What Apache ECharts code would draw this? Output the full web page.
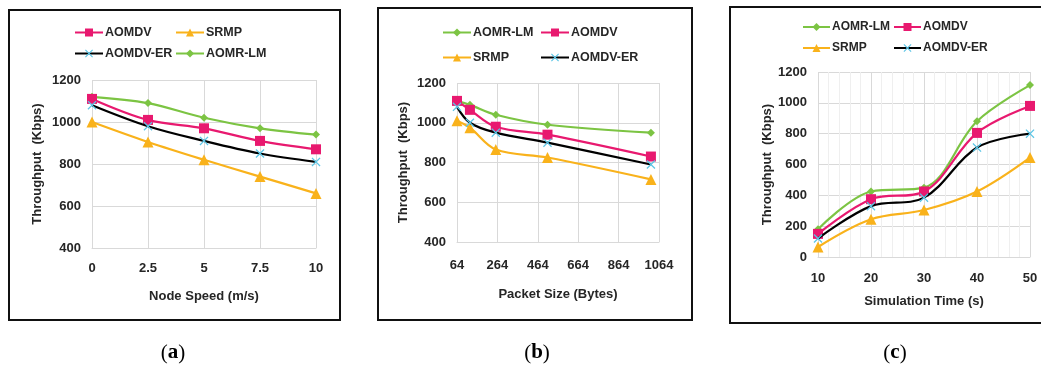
<!DOCTYPE html>
<html>
<head>
<meta charset="utf-8">
<script src="https://cdn.jsdelivr.net/npm/echarts@6/dist/echarts.min.js"></script>
<style>
html,body{margin:0;padding:0;background:#fff;}
#c{width:1041px;height:365px;}
</style>
</head>
<body>
<div id="c"></div>
<script>
// ---- data ----
const speedLabels = ['0', '2.5', '5', '7.5', '10'];
const a_AOMDV   = [1110, 1010, 970, 910, 870];
const a_SRMP    = [1000, 905, 820, 740, 660];
const a_AOMDVER = [1080, 980, 910, 850, 810];
const a_AOMRLM  = [1120, 1090, 1020, 970, 940];

const packetSizes = [64, 128, 256, 512, 1024];
const b_AOMRLM  = [1110, 1090, 1040, 990, 950];
const b_AOMDV   = [1110, 1065, 980, 940, 830];
const b_SRMP    = [1010, 975, 865, 825, 715];
const b_AOMDVER = [1080, 1000, 950, 900, 790];

const simTimes = [10, 20, 30, 40, 50];
const c_AOMRLM  = [180, 425, 450, 880, 1115];
const c_AOMDV   = [150, 375, 425, 805, 980];
const c_SRMP    = [65, 245, 305, 425, 645];
const c_AOMDVER = [120, 330, 385, 710, 800];

const yTicksAB = [400, 600, 800, 1000, 1200];
const yTicksC = [0, 200, 400, 600, 800, 1000, 1200];
const packetTickLabels = ['64', '264', '464', '664', '864', '1064'];

// ---- styles ----
const FONT = 'Liberation Sans, Arial, sans-serif';
const TXT = '#262626';
const GRIDC = '#d9d9d9';
const crossPath = 'path://M0,1L1,0L5,4L9,0L10,1L6,5L10,9L9,10L5,6L1,10L0,9L4,5Z';
const styles = {
  'AOMDV':    {symbol: 'rect', symbolSize: 10, color: '#e8196f', line: '#e8196f'},
  'SRMP':     {symbol: 'triangle', symbolSize: 11, color: '#f9b21b', line: '#f9b21b'},
  'AOMDV-ER': {symbol: crossPath, symbolSize: 9, color: '#5cc6e6', line: '#000000'},
  'AOMR-LM':  {symbol: 'diamond', symbolSize: 8, color: '#7cc443', line: '#7cc443'}
};

function mkSeries(name, data, gi) {
  const s = styles[name];
  return {
    type: 'line', name: name, xAxisIndex: gi, yAxisIndex: gi,
    data: data, smooth: 0.35, symbol: s.symbol, symbolSize: s.symbolSize,
    showSymbol: true, animation: false, z: name === 'AOMDV-ER' ? 3 : 2,
    lineStyle: {color: s.line, width: 2.2},
    itemStyle: {color: s.color}
  };
}

const grids = [
  {left: 92, top: 80, width: 224, height: 168},
  {left: 457, top: 83, width: 202, height: 159},
  {left: 818, top: 72, width: 212, height: 185}
];

function plain(v) { return String(v); }

function yAxis(gi, min, max, gap) {
  return {
    type: 'value', gridIndex: gi, min: min, max: max, interval: 200,
    name: 'Throughput  (Kbps)', nameLocation: 'middle', nameGap: gap,
    nameTextStyle: {fontFamily: FONT, fontWeight: 'bold', fontSize: 13, color: TXT},
    axisLine: {show: false}, axisTick: {show: false},
    axisLabel: {fontFamily: FONT, fontWeight: 'bold', fontSize: 13, color: TXT, margin: 11, formatter: plain},
    splitLine: {show: true, lineStyle: {color: GRIDC, width: 1}}
  };
}

const xAxes = [
  {
    type: 'category', gridIndex: 0, data: speedLabels, boundaryGap: false,
    name: 'Node Speed (m/s)', nameLocation: 'middle', nameGap: 42,
    nameTextStyle: {fontFamily: FONT, fontWeight: 'bold', fontSize: 13, color: TXT},
    axisLine: {show: true, lineStyle: {color: GRIDC}}, axisTick: {show: false},
    axisLabel: {fontFamily: FONT, fontWeight: 'bold', fontSize: 13, color: TXT, margin: 14},
    splitLine: {show: true, lineStyle: {color: GRIDC}}
  },
  {
    type: 'value', gridIndex: 1, min: 0, max: 1000, interval: 200,
    name: 'Packet Size (Bytes)', nameLocation: 'middle', nameGap: 46,
    nameTextStyle: {fontFamily: FONT, fontWeight: 'bold', fontSize: 13, color: TXT},
    axisLine: {show: true, lineStyle: {color: GRIDC}}, axisTick: {show: false},
    axisLabel: {fontFamily: FONT, fontWeight: 'bold', fontSize: 13, color: TXT, margin: 17,
      formatter: function (v) { return packetTickLabels[Math.round(v / 200)]; }},
    splitLine: {show: true, lineStyle: {color: GRIDC}}
  },
  {
    type: 'value', gridIndex: 2, min: 10, max: 50, interval: 10,
    name: 'Simulation Time (s)', nameLocation: 'middle', nameGap: 38,
    nameTextStyle: {fontFamily: FONT, fontWeight: 'bold', fontSize: 13, color: TXT},
    axisLine: {show: true, lineStyle: {color: GRIDC}}, axisTick: {show: false},
    axisLabel: {fontFamily: FONT, fontWeight: 'bold', fontSize: 13, color: TXT, margin: 15},
    splitLine: {show: true, lineStyle: {color: GRIDC}},
    minorTick: {show: false, splitNumber: 5},
    minorSplitLine: {show: true, lineStyle: {color: '#efefef'}}
  }
];

const yAxes = [
  yAxis(0, yTicksAB[0], yTicksAB[yTicksAB.length - 1], 48),
  yAxis(1, yTicksAB[0], yTicksAB[yTicksAB.length - 1], 47),
  yAxis(2, yTicksC[0], yTicksC[yTicksC.length - 1], 38)
];

const series = [
  mkSeries('AOMR-LM', a_AOMRLM, 0),
  mkSeries('AOMDV', a_AOMDV, 0),
  mkSeries('SRMP', a_SRMP, 0),
  mkSeries('AOMDV-ER', a_AOMDVER, 0),
  mkSeries('AOMR-LM', packetSizes.map((p, i) => [p - 64, b_AOMRLM[i]]), 1),
  mkSeries('AOMDV', packetSizes.map((p, i) => [p - 64, b_AOMDV[i]]), 1),
  mkSeries('SRMP', packetSizes.map((p, i) => [p - 64, b_SRMP[i]]), 1),
  mkSeries('AOMDV-ER', packetSizes.map((p, i) => [p - 64, b_AOMDVER[i]]), 1),
  mkSeries('AOMR-LM', simTimes.map((t, i) => [t, c_AOMRLM[i]]), 2),
  mkSeries('AOMDV', simTimes.map((t, i) => [t, c_AOMDV[i]]), 2),
  mkSeries('SRMP', simTimes.map((t, i) => [t, c_SRMP[i]]), 2),
  mkSeries('AOMDV-ER', simTimes.map((t, i) => [t, c_AOMDVER[i]]), 2)
];

function leg(name, left, top, fs, iw) {
  return {
    data: [name], left: left, top: top, itemWidth: iw || 28, itemHeight: 10, itemGap: 0,
    padding: 0, selectedMode: false,
    textStyle: {fontFamily: FONT, fontWeight: 'bold', fontSize: fs || 13, color: TXT, padding: [0, 0, 0, -3]}
  };
}
const legends = [
  leg('AOMDV', 74, 26, 12.5), leg('SRMP', 175, 26, 12.5), leg('AOMDV-ER', 74, 47, 12.5), leg('AOMR-LM', 175, 47, 12.5),
  leg('AOMR-LM', 442, 26, 12.5), leg('AOMDV', 540, 26, 12.5), leg('SRMP', 442, 51, 12.5), leg('AOMDV-ER', 540, 51, 12.5),
  leg('AOMR-LM', 802, 21, 12, 27), leg('AOMDV', 893, 21, 12, 27), leg('SRMP', 802, 42, 12, 27), leg('AOMDV-ER', 893, 42, 12, 27)
];

function frame(x1, y1, x2, y2) {
  return {type: 'rect', shape: {x: x1, y: y1, width: x2 - x1, height: y2 - y1},
    style: {fill: 'none', stroke: '#111', lineWidth: 2}, silent: true, z: 0};
}
function caption(letter, cx) {
  return {type: 'text', x: cx, y: 353, silent: true,
    style: {text: '(' + '{b|' + letter + '})', fontFamily: 'Liberation Serif, Times New Roman, serif',
      fontSize: 21, fill: '#000', align: 'center', verticalAlign: 'middle',
      rich: {b: {fontFamily: 'Liberation Serif, Times New Roman, serif', fontSize: 21, fontWeight: 'bold', fill: '#000'}}}};
}

const chart = echarts.init(document.getElementById('c'), null, {renderer: 'canvas'});
chart.setOption({
  backgroundColor: '#fff',
  animation: false,
  grid: grids,
  xAxis: xAxes,
  yAxis: yAxes,
  legend: legends,
  series: series,
  graphic: [
    frame(9, 10, 340, 320),
    frame(378, 8, 692, 320),
    frame(730, 7, 1045, 323),
    caption('a', 173), caption('b', 537), caption('c', 895)
  ]
});
</script>
</body>
</html>
